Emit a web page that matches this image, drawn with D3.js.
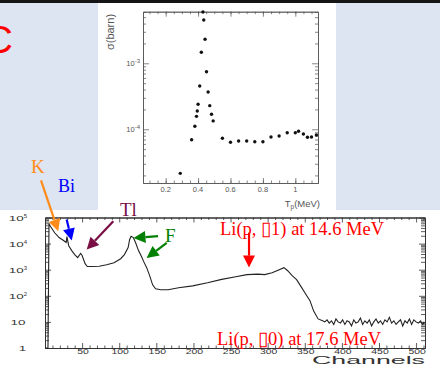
<!DOCTYPE html>
<html>
<head>
<meta charset="utf-8">
<script src="https://cdn.jsdelivr.net/npm/d3@7"></script>
<style>
  body { margin: 0; background: #dce5f1; }
  svg { display: block; }
</style>
</head>
<body>
<svg id="chart" width="440" height="367"></svg>
<script>
// ---- inset: cross section vs proton energy
const tpMeV = [0.29, 0.36, 0.38, 0.39, 0.395, 0.40, 0.41, 0.42, 0.43, 0.435, 0.443, 0.452, 0.462, 0.472, 0.483, 0.493,
  0.55, 0.60, 0.65, 0.70, 0.75, 0.80, 0.85, 0.90, 0.95, 1.00, 1.02, 1.05, 1.075, 1.10, 1.13];
const sigmaBarn = [2.15e-5, 6.95e-5, 1.11e-4, 1.57e-4, 1.89e-4, 2.39e-4, 4.53e-4, 1.47e-3, 6.0e-3, 4.53e-3, 2.31e-3, 7.46e-4, 3.67e-4, 2.28e-4, 1.69e-4, 1.34e-4,
  7.31e-5, 6.36e-5, 6.65e-5, 6.65e-5, 6.49e-5, 6.49e-5, 7.64e-5, 7.91e-5, 8.87e-5, 8.87e-5, 9.33e-5, 8.49e-5, 7.56e-5, 7.64e-5, 8.2e-5];
const insetXTicks = [0.2, 0.4, 0.6, 0.8, 1];
const insetXLabels = ["0.2", "0.4", "0.6", "0.8", "1"];
const insetYTicks = [1e-4, 1e-3];
const insetYExp = ["-4", "-3"];

// ---- spectrum: counts per channel
const channels = [0, 4, 5.4, 7, 13, 19, 25, 28.5, 29.5, 32, 36, 40, 44, 48, 50, 54, 57, 63, 73, 83, 93, 102, 107, 112, 114, 116, 119, 122,
  126, 130, 133, 137, 141, 145, 149, 156, 166, 180, 199, 219, 238, 257, 272, 287, 296, 306, 314, 322, 327, 333, 339, 345, 351, 357, 362, 368, 374,
  377, 380, 383, 386, 389, 392, 395, 398, 401, 404, 407, 410, 413, 416, 419, 422, 425, 428, 431, 434, 437, 440, 443, 446, 449, 452,
  455, 458, 461, 464, 467, 470, 473, 476, 479, 482, 485, 488, 491, 494, 497, 500, 503, 506, 509, 511];
const counts = [1, 1, 59000, 47000, 26000, 17000, 13200, 11000, 18600, 8300, 5400, 3800, 2900, 4200, 3500, 1700, 1320, 1320, 1350, 1550, 1860, 2630, 3800, 7100, 14100, 19000, 17000, 11000,
  5400, 3200, 2040, 1200, 590, 263, 186, 170, 170, 204, 240, 316, 427, 537, 646, 676, 646, 760, 955, 1200, 912, 590, 417, 224, 120, 65, 26, 13, 11,
  10, 12, 9, 11, 8, 13, 10, 9, 12, 8, 11, 10, 7, 12, 9, 10, 14, 8, 11, 9, 12, 7, 10, 13, 9, 11,
  8, 12, 10, 15, 9, 11, 8, 10, 12, 7, 11, 9, 13, 8, 12, 10, 9, 11, 8, 10, 6, 4];
const specXTicks = [50, 100, 150, 200, 250, 300, 350, 400, 450, 500];
const specYTicks = [1e5, 1e4, 1e3, 1e2, 10, 1];
const specYBase = ["10", "10", "10", "10", "10", "1"];
const specYExp = ["5", "4", "3", "2", "", ""];

// annotation arrows, in (channel, counts)
const arrows = [
  { color: "#ff8c1a", from: [-5.4, 10 ** 6.42], to: [17.9, 10 ** 4.47] },
  { color: "#0000ff", from: [29.2, 10 ** 4.92], to: [36, 10 ** 4.12] },
  { color: "#7a0f45", from: [92, 10 ** 4.86], to: [56.2, 10 ** 3.77] },
  { color: "#008000", from: [152.3, 10 ** 4.29], to: [119.2, 10 ** 4.21] },
  { color: "#008000", from: [164, 10 ** 4.03], to: [136.8, 10 ** 3.45] },
  { color: "#ff0000", from: [274.9, 10 ** 4.42], to: [274.9, 10 ** 3.08] }
];

const svg = d3.select("#chart");

// slide background pieces
svg.append("rect").attr("width", 440).attr("height", 367).attr("fill", "#dce5f1");
svg.append("rect").attr("width", 440).attr("height", 3).attr("fill", "#151515");
svg.append("rect").attr("x", 98).attr("y", 3).attr("width", 238).attr("height", 207).attr("fill", "#fff");
svg.append("rect").attr("x", 0).attr("y", 210).attr("width", 440).attr("height", 157).attr("fill", "#fff");

svg.append("text").attr("x", 13).attr("y", 53).attr("text-anchor", "end")
  .attr("font-family", "Liberation Sans, Arial, sans-serif").attr("font-size", 39)
  .attr("fill", "#ff0000").text("C");

// ================= inset =================
const ix = d3.scaleLinear().domain([0.06, 1.14]).range([143, 318]);
const iy = d3.scaleLog().domain([1.535e-5, 6.05e-3]).range([183, 11.7]);
const inset = svg.append("g");
const insetGray = "#555";

const ixMinor = d3.range(0.1, 1.14, 0.05);
function frameAxis(g, axis) {
  g.call(axis);
  g.select(".domain").attr("stroke", insetGray).attr("stroke-width", 0.8);
  g.selectAll(".tick line").attr("stroke", insetGray).attr("stroke-width", 0.7);
  g.selectAll(".tick text").remove();
}
inset.append("g").attr("transform", "translate(0,183)")
  .call(frameAxis, d3.axisBottom(ix).tickValues(ixMinor).tickSize(-2.5).tickSizeOuter(0));
inset.append("g").attr("transform", "translate(0,183)")
  .call(frameAxis, d3.axisBottom(ix).tickValues(insetXTicks).tickSize(-5).tickSizeOuter(0));
inset.append("g").attr("transform", "translate(0,11.7)")
  .call(frameAxis, d3.axisTop(ix).tickValues(ixMinor).tickSize(-2.5).tickSizeOuter(0));
inset.append("g").attr("transform", "translate(0,11.7)")
  .call(frameAxis, d3.axisTop(ix).tickValues(insetXTicks).tickSize(-5).tickSizeOuter(0));

const iyMinor = iy.ticks().filter(v => insetYTicks.indexOf(v) < 0);
inset.append("g").attr("transform", "translate(143,0)")
  .call(frameAxis, d3.axisLeft(iy).tickValues(iyMinor).tickSize(-3).tickSizeOuter(0));
inset.append("g").attr("transform", "translate(143,0)")
  .call(frameAxis, d3.axisLeft(iy).tickValues(insetYTicks).tickSize(-6).tickSizeOuter(0));
inset.append("g").attr("transform", "translate(318,0)")
  .call(frameAxis, d3.axisRight(iy).tickValues(iyMinor).tickSize(-3).tickSizeOuter(0));
inset.append("g").attr("transform", "translate(318,0)")
  .call(frameAxis, d3.axisRight(iy).tickValues(insetYTicks).tickSize(-6).tickSizeOuter(0));

inset.selectAll("text.ixl").data(insetXTicks).join("text")
  .attr("x", d => ix(d)).attr("y", 192).attr("text-anchor", "middle")
  .attr("font-family", "Liberation Sans, Arial, sans-serif").attr("font-size", 7.5)
  .attr("fill", insetGray).text((d, i) => insetXLabels[i]);

const iyl = inset.selectAll("text.iyl").data(insetYTicks).join("text")
  .attr("x", 140).attr("y", d => iy(d) + 3).attr("text-anchor", "end")
  .attr("font-family", "Liberation Sans, Arial, sans-serif").attr("font-size", 7.5).attr("fill", insetGray);
iyl.append("tspan").text("10");
iyl.append("tspan").attr("dy", -3.5).attr("font-size", 6).text((d, i) => insetYExp[i]);

inset.append("text").attr("transform", "translate(114,32) rotate(-90)").attr("text-anchor", "middle")
  .attr("font-family", "Liberation Sans, Arial, sans-serif").attr("font-size", 11).attr("fill", insetGray)
  .text("σ(barn)");
const tlab = inset.append("text").attr("x", 320).attr("y", 207).attr("text-anchor", "end")
  .attr("font-family", "Liberation Sans, Arial, sans-serif").attr("font-size", 9.5).attr("fill", insetGray);
tlab.append("tspan").text("T");
tlab.append("tspan").attr("dy", 2).attr("font-size", 6.5).text("p");
tlab.append("tspan").attr("dy", -2).text("(MeV)");

inset.selectAll("circle").data(tpMeV).join("circle")
  .attr("cx", d => ix(d)).attr("cy", (d, i) => iy(sigmaBarn[i])).attr("r", 1.7).attr("fill", "#111");

// ================= spectrum =================
const sx = d3.scaleLinear().domain([0, 512]).range([45, 425]);
const sy = d3.scaleLog().domain([1, 1e5]).range([348, 217.5]);
const spec = svg.append("g");
const specGray = "#333";

function specAxis(g, axis) {
  g.call(axis);
  g.select(".domain").attr("stroke", specGray).attr("stroke-width", 1);
  g.selectAll(".tick line").attr("stroke", specGray).attr("stroke-width", 0.8);
  g.selectAll(".tick text").remove();
}
const sxMinor = d3.range(10, 512, 10).filter(v => v % 50 !== 0);
[[348, d3.axisBottom], [217.5, d3.axisTop]].forEach(([yy, mk]) => {
  spec.append("g").attr("transform", `translate(0,${yy})`)
    .call(specAxis, mk(sx).tickValues(sxMinor).tickSize(-2.5).tickSizeOuter(0));
  spec.append("g").attr("transform", `translate(0,${yy})`)
    .call(specAxis, mk(sx).tickValues(specXTicks).tickSize(-5).tickSizeOuter(0));
});
const syMinor = sy.ticks().filter(v => specYTicks.indexOf(v) < 0);
[[45, d3.axisLeft], [425, d3.axisRight]].forEach(([xx, mk]) => {
  spec.append("g").attr("transform", `translate(${xx},0)`)
    .call(specAxis, mk(sy).tickValues(syMinor).tickSize(-4).tickSizeOuter(0));
  spec.append("g").attr("transform", `translate(${xx},0)`)
    .call(specAxis, mk(sy).tickValues(specYTicks).tickSize(-6).tickSizeOuter(0));
});

spec.selectAll("text.sxl").data(specXTicks).join("text")
  .attr("x", d => sx(d) + 1).attr("y", 354).attr("text-anchor", "middle")
  .attr("font-family", "Liberation Sans, Arial, sans-serif").attr("font-size", 7.5)
  .attr("textLength", d => String(d).length * 5.8).attr("lengthAdjust", "spacingAndGlyphs")
  .attr("fill", specGray).text(d => d);

const syl = spec.selectAll("text.syl").data(specYTicks).join("text")
  .attr("x", (d, i) => specYBase[i] === "1" ? 22.5 : 18).attr("y", d => sy(d) + 3).attr("text-anchor", "middle")
  .attr("font-family", "Liberation Sans, Arial, sans-serif").attr("font-size", 7.5).attr("fill", specGray);
syl.append("tspan").attr("textLength", (d, i) => specYBase[i].length * 7.5).attr("lengthAdjust", "spacingAndGlyphs")
  .text((d, i) => specYBase[i]);
syl.append("tspan").attr("dy", -3).attr("font-size", 6).text((d, i) => specYExp[i]);

spec.append("text").attr("x", 312).attr("y", 364)
  .attr("font-family", "Liberation Sans, Arial, sans-serif").attr("font-size", 10)
  .attr("textLength", 113).attr("lengthAdjust", "spacingAndGlyphs").attr("fill", specGray).text("Channels");

const specLine = d3.line().x(d => sx(d[0])).y(d => sy(d[1]));
spec.append("path").datum(channels.map((c, i) => [c, counts[i]]))
  .attr("d", specLine).attr("fill", "none").attr("stroke", "#222").attr("stroke-width", 1.1);

// annotations
const serif = "Liberation Serif, Times New Roman, serif";
function label(x, y, txt, color, size) {
  svg.append("text").attr("x", x).attr("y", y).attr("font-family", serif)
    .attr("font-size", size).attr("fill", color).text(txt);
}
label(31, 173, "K", "#ff8c1a", 19);
label(58, 192, "Bi", "#0000ff", 18);
label(120, 216, "Tl", "#7a0f45", 19);
label(165, 242, "F", "#008000", 19);
label(220, 235, "Li(p, \u25AF1) at 14.6 MeV", "#ff0000", 18.5);
label(217, 345, "Li(p, \u25AF0) at 17.6 MeV", "#ff0000", 18.5);

arrows.forEach(a => {
  const x1 = sx(a.from[0]), y1 = sy(a.from[1]);
  const x2 = sx(a.to[0]), y2 = sy(a.to[1]);
  const ang = Math.atan2(y2 - y1, x2 - x1);
  const hl = 12, hw = 6;
  const bx = x2 - hl * Math.cos(ang), by = y2 - hl * Math.sin(ang);
  svg.append("line").attr("x1", x1).attr("y1", y1).attr("x2", bx).attr("y2", by)
    .attr("stroke", a.color).attr("stroke-width", 2.2);
  const px = -Math.sin(ang) * hw, py = Math.cos(ang) * hw;
  svg.append("path")
    .attr("d", `M${x2},${y2}L${bx + px},${by + py}L${bx - px},${by - py}Z`)
    .attr("fill", a.color);
});
</script>
</body>
</html>
